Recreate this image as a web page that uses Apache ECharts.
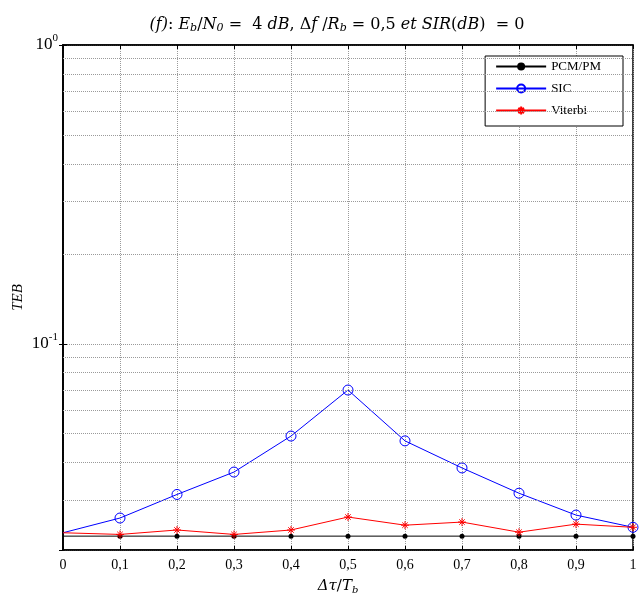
<!DOCTYPE html>
<html>
<head>
<meta charset="utf-8">
<script src="https://cdn.jsdelivr.net/npm/echarts@6/dist/echarts.min.js"></script>
<style>
html,body{margin:0;padding:0;background:#fff;}
#chart{width:641px;height:610px;}
</style>
</head>
<body>
<div id="chart"></div>
<script>
// ---- data ----
const xValues = [0, 0.1, 0.2, 0.3, 0.4, 0.5, 0.6, 0.7, 0.8, 0.9, 1.0];
const pcmValues = [0.0227, 0.0227, 0.0227, 0.0227, 0.0227, 0.0227, 0.0227, 0.0227, 0.0227, 0.0227, 0.0227];
const sicValues = [0.0233, 0.0261, 0.0313, 0.0372, 0.0491, 0.0700, 0.0473, 0.0384, 0.0316, 0.0267, 0.0243];
const viterbiValues = [0.0233, 0.0230, 0.0238, 0.0230, 0.0238, 0.0263, 0.0247, 0.0253, 0.0234, 0.0249, 0.0243];
const seriesNames = ['PCM/PM', 'SIC', 'Viterbi'];
const minorGridValues = [0.03, 0.04, 0.05, 0.06, 0.07, 0.08, 0.09, 0.2, 0.3, 0.4, 0.5, 0.6, 0.7, 0.8, 0.9];
const yMin = 0.0204, yMax = 1;

const serif = 'Liberation Serif';
// first point (x = 0) is drawn without a marker, as in the reference
const pairs = arr => xValues.map((x, i) => i === 0 ? { value: [x, arr[i]], symbol: 'none' } : [x, arr[i]]);
const asterisk = 'path://M5,0L5,10M0,5L10,5M1.6,1.6L8.4,8.4M1.6,8.4L8.4,1.6';

function xFmt(v) {
  if (Math.abs(v) < 1e-9) return '0';
  if (Math.abs(v - 1) < 1e-9) return '1';
  return v.toFixed(1).replace('.', ',');
}
function yFmt(v) {
  if (Math.abs(v - 1) < 1e-9) return '{b|10}{p|0}';
  if (Math.abs(v - 0.1) < 1e-9) return '{b|10}{p|-1}';
  return '';
}

const gridLineStyle = { color: '#9a9a9a', width: 1, type: [1, 1] };
const mathFont = 'DejaVu Serif';
const richTitle = {
  i: { fontFamily: mathFont, fontStyle: 'italic', fontWeight: 'normal', fontSize: 16, color: '#000' },
  n: { fontFamily: mathFont, fontStyle: 'normal', fontWeight: 'normal', fontSize: 16, color: '#000' },
  s: { fontFamily: mathFont, fontStyle: 'italic', fontWeight: 'normal', fontSize: 11, color: '#000', padding: [8, 0, 0, 0] }
};
const richName = {
  i: { fontFamily: mathFont, fontStyle: 'italic', fontWeight: 'normal', fontSize: 15, color: '#000' },
  n: { fontFamily: mathFont, fontStyle: 'normal', fontWeight: 'normal', fontSize: 15, color: '#000' },
  s: { fontFamily: mathFont, fontStyle: 'italic', fontWeight: 'normal', fontSize: 10, color: '#000', padding: [8, 0, 0, 0] }
};

const chart = echarts.init(document.getElementById('chart'), null, { renderer: 'canvas' });
chart.setOption({
  animation: false,
  backgroundColor: '#fff',
  title: {
    left: 332, top: 10, textAlign: 'center',
    text: '{i|(f)}{n|: }{i|E}{s|b}{n|/}{i|N}{s|0}{n| =  4 }{i|dB}{n|, Δ}{i|f}{n| /}{i|R}{s|b}{n| = 0,5 }{i|et SIR}{n|(}{i|dB}{n|)  = 0}',
    textStyle: { fontWeight: 'normal', fontFamily: mathFont, rich: richTitle }
  },
  grid: { left: 63, right: 8, top: 45, bottom: 60, outerBoundsMode: 'none', containLabel: false, show: true, borderColor: '#000', borderWidth: 1.5, backgroundColor: 'transparent' },
  legend: {
    data: seriesNames,
    orient: 'vertical',
    right: 18, top: 56,
    itemWidth: 50, itemHeight: 10, itemGap: 9,
    padding: [4, 22, 9, 10],
    borderColor: '#000', borderWidth: 1, backgroundColor: '#fff',
    textStyle: { fontFamily: serif, fontSize: 13, color: '#000' }
  },
  xAxis: [{
    type: 'value', min: 0, max: 1, interval: 0.1,
    name: '{i|Δτ}{n|/}{i|T}{s|b}', nameLocation: 'middle', nameGap: 27,
    nameTextStyle: { rich: richName, padding: [0, 20, 0, 0] },
    axisLine: { show: true, lineStyle: { color: '#000', width: 1.5 } },
    axisTick: { show: true, inside: true, length: 4, lineStyle: { color: '#000' } },
    axisLabel: { formatter: xFmt, fontFamily: serif, fontSize: 14, color: '#000', margin: 8 },
    splitLine: { show: true, lineStyle: gridLineStyle }
  }, {
    type: 'value', min: 0, max: 1, interval: 0.1, position: 'top',
    axisLine: { show: true, lineStyle: { color: '#000', width: 1.5 } },
    axisTick: { show: true, inside: true, length: 4, lineStyle: { color: '#000' } },
    axisLabel: { show: false }, splitLine: { show: false }
  }],
  yAxis: [{
    type: 'log', logBase: 10, min: yMin, max: yMax,
    name: 'TEB', nameLocation: 'middle', nameGap: 37, nameMoveOverlap: false,
    nameTextStyle: { fontFamily: serif, fontStyle: 'italic', fontSize: 15, color: '#000' },
    axisLine: { show: true, lineStyle: { color: '#000', width: 1.5 } },
    axisTick: { show: true, inside: true, length: 4, lineStyle: { color: '#000' } },
    axisLabel: {
      formatter: yFmt, margin: 5, showMinLabel: false,
      rich: {
        b: { fontFamily: serif, fontSize: 17, color: '#000' },
        p: { fontFamily: serif, fontSize: 11, color: '#000', padding: [0, 0, 13, 0] }
      }
    },
    splitLine: { show: true, lineStyle: gridLineStyle }
  }, {
    type: 'log', logBase: 10, min: yMin, max: yMax, position: 'right',
    axisLine: { show: true, lineStyle: { color: '#000', width: 1.5 } },
    axisTick: { show: true, inside: true, length: 4, lineStyle: { color: '#000' } },
    axisLabel: { show: false }, splitLine: { show: false }
  }],
  series: [
    {
      name: 'minor-grid', type: 'line', data: [], silent: true, z: 1,
      markLine: {
        silent: true, symbol: ['none', 'none'], label: { show: false },
        lineStyle: gridLineStyle, animation: false,
        emphasis: { disabled: true },
        data: minorGridValues.map(v => ({ yAxis: v }))
      }
    },
    {
      name: seriesNames[0], type: 'line', data: pairs(pcmValues),
      symbol: 'circle', symbolSize: 5, showAllSymbol: true,
      lineStyle: { color: '#000', width: 1 }, itemStyle: { color: '#000' }, z: 3
    },
    {
      name: seriesNames[1], type: 'line', data: pairs(sicValues),
      symbol: 'circle', symbolSize: 10, showAllSymbol: true,
      lineStyle: { color: '#0000ff', width: 1 }, itemStyle: { color: 'rgba(255,255,255,0)', borderColor: '#0000ff', borderWidth: 1 }, z: 4
    },
    {
      name: seriesNames[2], type: 'line', data: pairs(viterbiValues),
      symbol: asterisk, symbolSize: 8, showAllSymbol: true,
      lineStyle: { color: '#ff0000', width: 1 }, itemStyle: { color: '#ff0000', borderColor: '#ff0000', borderWidth: 1 }, z: 5
    }
  ]
});
</script>
</body>
</html>
